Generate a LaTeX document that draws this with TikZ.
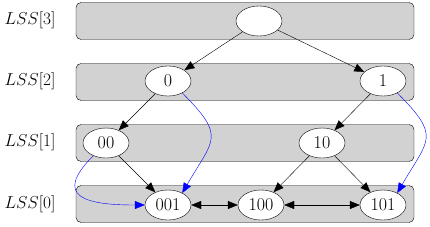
\documentclass[tikz,border=0pt]{standalone}
\usepackage{tikz}
\usetikzlibrary{shapes.geometric, arrows.meta, positioning}

\begin{document}
\begin{tikzpicture}[
  x=1pt, y=-1pt,
  level/.style={draw, fill=gray!35, rounded corners=5pt, minimum width=338pt, minimum height=37pt, inner sep=0pt},
  vtx/.style={draw, fill=white, ellipse, minimum width=46pt, minimum height=30pt, inner sep=0pt, font=\fontsize{18}{21}\selectfont},
  lbl/.style={font=\fontsize{18.5}{21}\selectfont},
  edge/.style={-{Triangle[length=10pt,width=8pt]}},
  both/.style={{Triangle[length=10pt,width=8pt]}-{Triangle[length=10pt,width=8pt]}},
  link/.style={blue, -{Triangle[length=10pt,width=8pt]}}
]
  \useasboundingbox (0,0) rectangle (430,227);
  % levels
  \node[level] (lev3) at (245,21) {};
  \node[level] (lev2) at (245,82) {};
  \node[level] (lev1) at (245,143) {};
  \node[level] (lev0) at (245,204) {};
  \node[lbl] (lab3) at (30,20) {$LSS[3]$};
  \node[lbl] (lab2) at (30,81) {$LSS[2]$};
  \node[lbl] (lab1) at (30,142) {$LSS[1]$};
  \node[lbl] (lab0) at (30,204) {$LSS[0]$};
  % prefix tree
  \node[vtx] (root) at (259,21) {};
  \node[vtx] (n0) at (168,81) {0};
  \node[vtx] (n1) at (383,81) {1};
  \node[vtx] (n00) at (106,143) {00};
  \node[vtx] (n10) at (322,143) {10};
  \node[vtx] (n001) at (168,205) {001};
  \node[vtx] (n100) at (261,205) {100};
  \node[vtx] (n101) at (383,205) {101};
  \draw[edge] (root) -- (n0);
  \draw[edge] (root) -- (n1);
  \draw[edge] (n0) -- (n00);
  \draw[edge] (n00) -- (n001);
  \draw[edge] (n1) -- (n10);
  \draw[edge] (n10) -- (n100);
  \draw[edge] (n10) -- (n101);
  \draw[both] (n001) -- (n100);
  \draw[both] (n100) -- (n101);
  % links
  \draw[link] (n0.-40) to[out=-45, in=60, looseness=1.6] (n001.40);
  \draw[link] (n00.-135) to[out=-135, in=180, looseness=2.1] (n001.west);
  \draw[link] (n1.-40) to[out=-45, in=60, looseness=1.6] (n101.40);
\end{tikzpicture}
\end{document}
